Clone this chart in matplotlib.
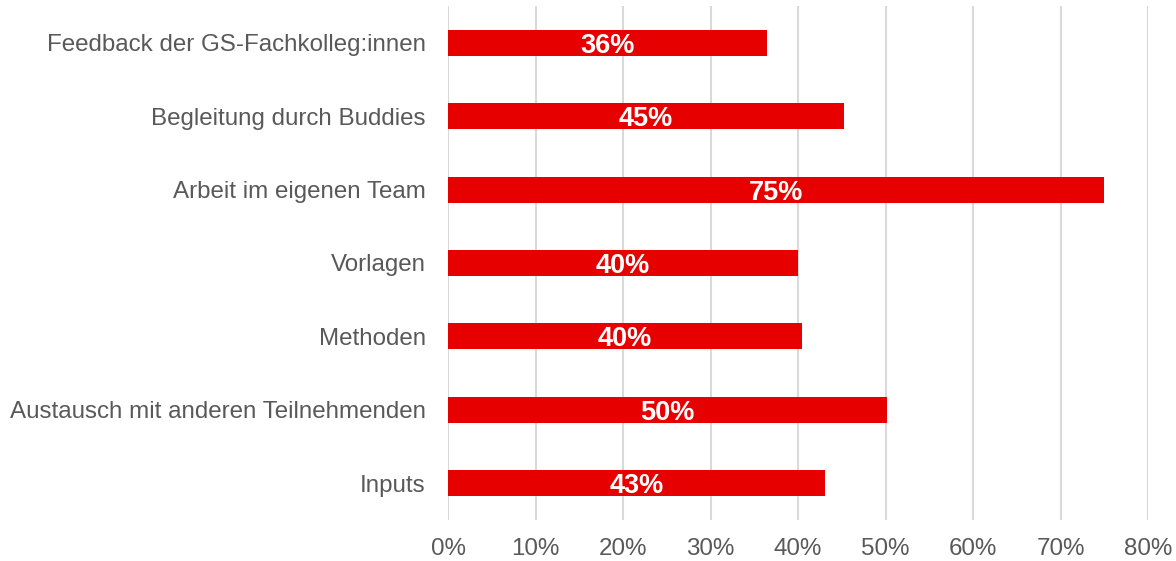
import matplotlib
matplotlib.use("Agg")
import matplotlib.pyplot as plt
from matplotlib.ticker import PercentFormatter

plt.rcParams["font.family"] = ["Liberation Sans", "DejaVu Sans"]

# Data (top to bottom as shown)
categories = [
    "Feedback der GS-Fachkolleg:innen",
    "Begleitung durch Buddies",
    "Arbeit im eigenen Team",
    "Vorlagen",
    "Methoden",
    "Austausch mit anderen Teilnehmenden",
    "Inputs",
]
values = [36.5, 45.3, 75.0, 40.0, 40.5, 50.2, 43.1]
value_labels = ["36%", "45%", "75%", "40%", "40%", "50%", "43%"]
x_ticks = [0, 10, 20, 30, 40, 50, 60, 70, 80]

bar_color = "#E60000"
text_gray = "#595959"
grid_gray = "#D9D9D9"
fs = 17.4

fig = plt.figure(figsize=(11.76, 5.61), dpi=100)
ax = fig.add_axes([448 / 1176, 1 - 520 / 561, 700 / 1176, 514 / 561])

pos = list(range(len(categories)))[::-1]
ax.barh(pos, values, height=0.355, color=bar_color, zorder=3)

for y, v, lab in zip(pos, values, value_labels):
    ax.text(v / 2, y - 0.04, lab, ha="center", va="center", color="white",
            fontsize=19.5, fontweight="bold", zorder=4)

ax.set_xlim(0, 80)
ax.set_ylim(-0.5, len(categories) - 0.5)
ax.set_xticks(x_ticks)
ax.xaxis.set_major_formatter(PercentFormatter(decimals=0))
ax.set_yticks(pos)
ax.set_yticklabels(categories)

ax.tick_params(axis="x", length=0, pad=13, labelsize=fs, labelcolor=text_gray)
ax.tick_params(axis="y", length=0, pad=16, labelsize=fs, labelcolor=text_gray)

ax.grid(axis="x", color=grid_gray, linewidth=1.5, zorder=0)
for s in ax.spines.values():
    s.set_visible(False)

fig.savefig("out.png", dpi=100)
